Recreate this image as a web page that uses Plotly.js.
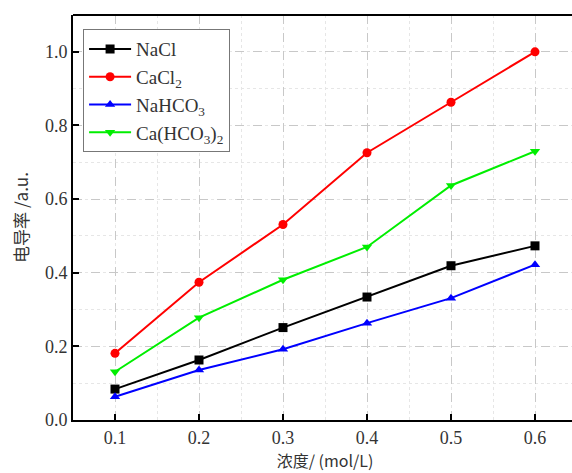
<!DOCTYPE html>
<html><head><meta charset="utf-8">
<script src="https://cdn.plot.ly/plotly-3.0.1.min.js"></script>
<style>html,body{margin:0;padding:0;overflow:hidden;background:#fff;width:572px;height:473px}</style>
</head><body>
<div id="chart" style="width:585px;height:473px"></div>
<script>
const concentration = [0.1, 0.2, 0.3, 0.4, 0.5, 0.6];
const nacl = [0.084, 0.163, 0.251, 0.334, 0.419, 0.473];
const cacl2 = [0.181, 0.374, 0.531, 0.726, 0.863, 1.0];
const nahco3 = [0.063, 0.136, 0.192, 0.263, 0.331, 0.422];
const cahco32 = [0.131, 0.278, 0.381, 0.470, 0.637, 0.730];
const seriesNames = ['NaCl', 'CaCl<sub>2</sub>', 'NaHCO<sub>3</sub>', 'Ca(HCO<sub>3</sub>)<sub>2</sub>'];
const xTicks = [0.1, 0.2, 0.3, 0.4, 0.5, 0.6];
const yTicks = [0.0, 0.2, 0.4, 0.6, 0.8, 1.0];

const font = 'Liberation Serif, Times New Roman, Noto Sans CJK SC, serif';
const cjkFont = 'Noto Sans CJK SC, Liberation Serif, serif';
const colors = ['#000000', '#ff0000', '#0000ff', '#00ee00'];
const symbols = ['square', 'circle', 'triangle-up', 'triangle-down'];
const ys = [nacl, cacl2, nahco3, cahco32];

const traces = ys.map((y, i) => ({
  x: concentration, y: y, name: seriesNames[i], type: 'scatter', mode: 'lines+markers',
  line: {color: colors[i], width: 2},
  marker: {color: colors[i], symbol: symbols[i], size: 9}
}));

const layout = {
  width: 585, height: 473,
  margin: {l: 73, r: 8, t: 15, b: 53},
  paper_bgcolor: '#fff', plot_bgcolor: '#fff',
  font: {family: font, size: 18, color: '#333'},
  showlegend: true,
  legend: {
    x: 0.02, y: 0.965, xanchor: 'left', yanchor: 'top',
    bordercolor: '#777', borderwidth: 1, bgcolor: '#fff',
    font: {family: font, size: 19, color: '#333'},
    tracegroupgap: 0, itemwidth: 42
  },
  xaxis: {
    range: [0.05, 0.65], tickvals: xTicks, ticktext: xTicks.map(v => v.toFixed(1)),
    ticks: 'inside', ticklen: 6, tickwidth: 2, tickcolor: '#000',
    showline: true, linecolor: '#000', linewidth: 2, mirror: false,
    showgrid: true, gridcolor: '#c8c8c8', griddash: 'dash', gridwidth: 1,
    minor: {dtick: 0.05, tick0: 0.05, showgrid: true, gridcolor: '#e6e6e6', griddash: 'dot', gridwidth: 1},
    zeroline: false,
    title: {text: '浓度/ (mol/L)', font: {family: cjkFont, size: 16, color: '#333'}, standoff: 6},
    tickfont: {family: font, size: 18, color: '#333'}
  },
  yaxis: {
    range: [0, 1.1], tickvals: yTicks, ticktext: yTicks.map(v => v.toFixed(1)),
    ticks: 'inside', ticklen: 6, tickwidth: 2, tickcolor: '#000',
    showline: true, linecolor: '#000', linewidth: 2,
    showgrid: true, gridcolor: '#c8c8c8', griddash: 'dash', gridwidth: 1,
    minor: {dtick: 0.1, tick0: 0, showgrid: true, gridcolor: '#e6e6e6', griddash: 'dot', gridwidth: 1},
    zeroline: false,
    title: {text: '电导率 /a.u.', font: {family: cjkFont, size: 17, color: '#333'}, standoff: 12},
    tickfont: {family: font, size: 18, color: '#333'}
  },
  shapes: [
    {type: 'line', xref: 'paper', yref: 'paper', x0: 0, x1: 1, y0: 1, y1: 1, line: {color: '#000', width: 2}}
  ]
};

Plotly.newPlot('chart', traces, layout, {displayModeBar: false, staticPlot: true});
</script>
</body></html>
